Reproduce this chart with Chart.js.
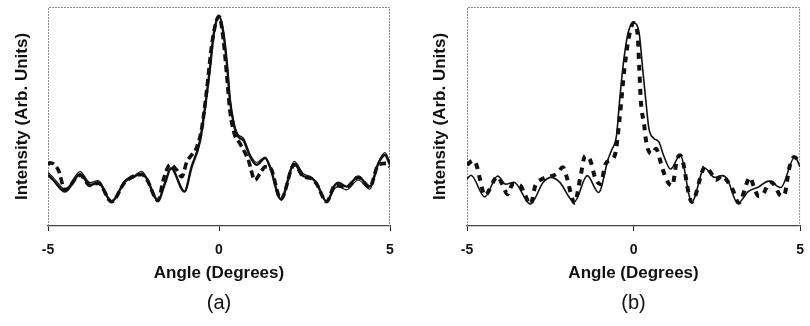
<!DOCTYPE html>
<html>
<head>
<meta charset="utf-8">
<script src="https://cdn.jsdelivr.net/npm/chart.js@4.4.1/dist/chart.umd.min.js"></script>
<style>
  html, body { margin: 0; padding: 0; background: #fff; overflow: hidden; }
  #wrap { position: relative; width: 810px; height: 326px; overflow: hidden; }
  canvas { position: absolute; top: 0; }
  #chartA { left: 0; }
  #chartB { left: 405px; }
</style>
</head>
<body>
<div id="wrap">
  <canvas id="chartA" width="405" height="326"></canvas>
  <canvas id="chartB" width="410" height="326"></canvas>
</div>
<script>
// Panel (a): thick solid, thin solid and dashed profiles
const solidAngleA = [-5, -4.85, -4.5, -4.06, -3.77, -3.53, -3.14, -2.75, -2.51, -2.26, -2.12, -1.78, -1.58, -1.4, -1.01, -0.8, -0.56, -0.38, -0.26, -0.15, 0, 0.13, 0.24, 0.32, 0.44, 0.55, 0.72, 0.9, 1.1, 1.35, 1.49, 1.81, 2.2, 2.46, 2.71, 2.85, 3.15, 3.39, 3.49, 3.73, 4.07, 4.41, 4.66, 4.85, 5];
const solidThickA = [0.233, 0.21, 0.157, 0.236, 0.187, 0.198, 0.111, 0.203, 0.222, 0.24, 0.218, 0.116, 0.195, 0.263, 0.157, 0.27, 0.385, 0.575, 0.727, 0.88, 0.958, 0.88, 0.727, 0.575, 0.46, 0.41, 0.39, 0.32, 0.279, 0.31, 0.27, 0.122, 0.283, 0.228, 0.218, 0.195, 0.111, 0.187, 0.198, 0.18, 0.225, 0.18, 0.286, 0.324, 0.279];
const solidThinA = [0.245, 0.222, 0.168, 0.248, 0.198, 0.207, 0.115, 0.208, 0.226, 0.25, 0.222, 0.118, 0.2, 0.265, 0.157, 0.272, 0.39, 0.58, 0.73, 0.885, 0.958, 0.885, 0.735, 0.585, 0.47, 0.42, 0.4, 0.33, 0.29, 0.315, 0.275, 0.125, 0.295, 0.24, 0.222, 0.2, 0.113, 0.172, 0.18, 0.165, 0.21, 0.168, 0.29, 0.335, 0.29];

const dashedAngleA = [-5, -4.94, -4.7, -4.5, -4.06, -3.77, -3.53, -3.14, -2.75, -2.26, -2.12, -1.78, -1.63, -1.43, -1.24, -1.09, -0.94, -0.8, -0.65, -0.5, -0.36, -0.2, 0, 0.12, 0.22, 0.32, 0.45, 0.61, 0.86, 1.05, 1.2, 1.35, 1.5, 1.81, 2.2, 2.46, 2.71, 2.85, 3.15, 3.39, 3.73, 4.07, 4.41, 4.66, 4.9, 5];
const dashedA = [0.28, 0.289, 0.256, 0.165, 0.232, 0.185, 0.196, 0.111, 0.2, 0.235, 0.215, 0.116, 0.21, 0.28, 0.256, 0.225, 0.294, 0.324, 0.36, 0.45, 0.62, 0.84, 0.958, 0.86, 0.7, 0.526, 0.42, 0.377, 0.3, 0.21, 0.24, 0.27, 0.265, 0.122, 0.28, 0.226, 0.216, 0.193, 0.111, 0.185, 0.178, 0.222, 0.178, 0.28, 0.286, 0.27];

// Panel (b): solid and dashed profiles
const solidAngleB = [-5, -4.88, -4.47, -4.08, -3.84, -3.59, -3.1, -2.71, -2.47, -2.22, -1.78, -1.39, -1.05, -0.76, -0.66, -0.51, -0.42, -0.32, -0.17, 0, 0.17, 0.27, 0.37, 0.46, 0.61, 0.76, 0.9, 1.11, 1.4, 1.75, 2.13, 2.43, 2.67, 2.81, 3.13, 3.45, 3.75, 4.06, 4.42, 4.84, 5];
const solidB = [0.215, 0.232, 0.133, 0.228, 0.191, 0.2, 0.1, 0.2, 0.222, 0.2, 0.11, 0.23, 0.153, 0.307, 0.346, 0.415, 0.57, 0.724, 0.878, 0.927, 0.878, 0.724, 0.57, 0.446, 0.4, 0.384, 0.323, 0.26, 0.323, 0.11, 0.265, 0.222, 0.23, 0.214, 0.104, 0.158, 0.178, 0.205, 0.176, 0.315, 0.27];

const dashedAngleB = [-5, -4.8, -4.71, -4.61, -4.47, -4.08, -3.88, -3.78, -3.63, -3.39, -3.29, -3.09, -2.95, -2.75, -2.31, -2.12, -2.02, -1.77, -1.6, -1.45, -1.3, -1.14, -0.99, -0.84, -0.7, -0.55, -0.42, -0.27, -0.12, 0, 0.12, 0.17, 0.22, 0.32, 0.38, 0.47, 0.57, 0.67, 0.87, 1.03, 1.16, 1.3, 1.4, 1.75, 2.09, 2.15, 2.38, 2.47, 2.67, 2.77, 2.97, 3.16, 3.45, 3.5, 3.6, 3.75, 3.89, 4.04, 4.14, 4.24, 4.43, 4.52, 4.68, 4.82, 5];
const dashedB = [0.28, 0.3, 0.276, 0.214, 0.14, 0.225, 0.168, 0.145, 0.191, 0.184, 0.153, 0.099, 0.184, 0.214, 0.238, 0.268, 0.23, 0.106, 0.22, 0.32, 0.3, 0.214, 0.191, 0.284, 0.3, 0.33, 0.49, 0.724, 0.878, 0.927, 0.878, 0.724, 0.57, 0.46, 0.384, 0.338, 0.33, 0.353, 0.26, 0.2, 0.184, 0.3, 0.323, 0.11, 0.26, 0.27, 0.23, 0.21, 0.23, 0.215, 0.168, 0.106, 0.214, 0.222, 0.184, 0.137, 0.145, 0.191, 0.2, 0.184, 0.137, 0.14, 0.268, 0.315, 0.29];

const xTicks = [-5, 0, 5];
const xTitle = "Angle (Degrees)";
const yTitle = "Intensity (Arb. Units)";

const FONT = "'Liberation Sans', Arial, sans-serif";

// dotted grey frame on top, left and right of the plot area
const framePlugin = {
  id: "frame",
  beforeDatasetsDraw(chart) {
    const { ctx, chartArea: a } = chart;
    ctx.save();
    ctx.strokeStyle = "#8a8a8a";
    ctx.lineWidth = 1;
    ctx.setLineDash([2, 1]);
    ctx.beginPath();
    ctx.moveTo(a.left + 0.5, a.bottom);
    ctx.lineTo(a.left + 0.5, a.top + 0.5);
    ctx.lineTo(a.right - 0.5, a.top + 0.5);
    ctx.lineTo(a.right - 0.5, a.bottom);
    ctx.stroke();
    ctx.restore();
  },
};

function pts(xs, ys) {
  return xs.map((x, i) => ({ x: x, y: ys[i] }));
}

function line(xs, ys, width, dash) {
  return {
    data: pts(xs, ys),
    borderColor: "#111",
    borderWidth: width,
    borderDash: dash || [],
    pointRadius: 0,
    fill: false,
    cubicInterpolationMode: "monotone",
  };
}

function makeChart(id, datasets, caption, yWidth, yTitlePad, padRight) {
  return new Chart(document.getElementById(id), {
    type: "line",
    data: { datasets: datasets },
    plugins: [framePlugin],
    options: {
      responsive: false,
      animation: false,
      layout: { padding: { top: 7, right: padRight, left: 0, bottom: 0 } },
      plugins: {
        legend: { display: false },
        tooltip: { enabled: false },
      },
      scales: {
        x: {
          type: "linear",
          min: -5,
          max: 5,
          weight: 0,
          afterBuildTicks: (s) => { s.ticks = xTicks.map((v) => ({ value: v })); },
          afterFit: (s) => { s.height = 60; },
          ticks: {
            color: "#111",
            padding: 11,
            maxRotation: 0,
            font: { family: FONT, size: 14, weight: "bold" },
          },
          grid: {
            drawOnChartArea: false,
            tickColor: "#222",
            tickLength: 5,
            lineWidth: 1,
          },
          border: { display: true, color: "#444", width: 1.3 },
          title: {
            display: true,
            text: xTitle,
            color: "#111",
            font: { family: FONT, size: 17, weight: "bold" },
            padding: { top: 0, bottom: 2 },
          },
        },
        // caption axis: carries only the "(a)" / "(b)" label, centred under the plot
        cap: {
          type: "linear",
          position: "bottom",
          min: -5,
          max: 5,
          weight: 1,
          afterFit: (s) => { s.height = 40; },
          ticks: { display: false },
          grid: { display: false },
          border: { display: false },
          title: {
            display: true,
            text: caption,
            color: "#111",
            font: { family: FONT, size: 20, weight: "normal" },
            padding: { top: 0, bottom: 11 },
          },
        },
        y: {
          min: 0,
          max: 1,
          afterFit: (s) => { s.width = yWidth; },
          ticks: { display: false },
          grid: { display: false },
          border: { display: false },
          title: {
            display: true,
            text: yTitle,
            color: "#111",
            font: { family: FONT, size: 17, weight: "bold" },
            padding: { top: yTitlePad, bottom: 0 },
          },
        },
      },
    },
  });
}

makeChart("chartA", [
  line(solidAngleA, solidThinA, 1.2),
  line(solidAngleA, solidThickA, 2.4),
  line(dashedAngleA, dashedA, 3.6, [7, 4]),
], "(a)", 48, 12, 15);

makeChart("chartB", [
  line(solidAngleB, solidB, 1.6),
  line(dashedAngleB, dashedB, 4, [6, 6]),
], "(b)", 62, 25, 7);
</script>
</body>
</html>
